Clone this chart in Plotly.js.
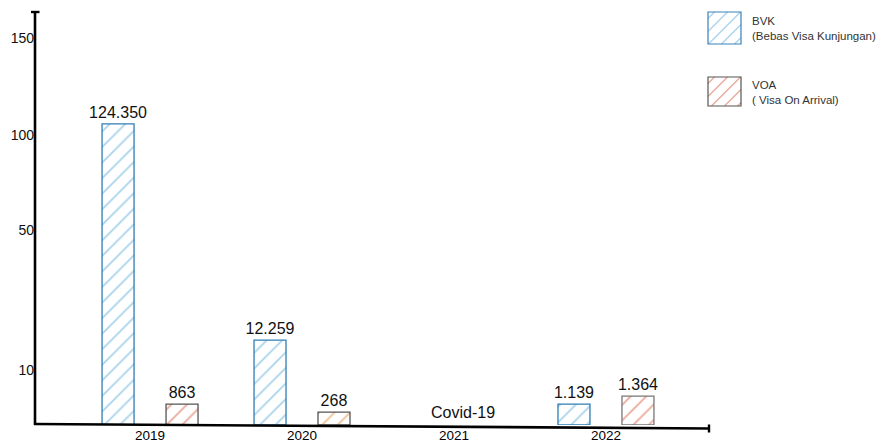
<!DOCTYPE html>
<html>
<head>
<meta charset="utf-8">
<script src="https://cdn.plot.ly/plotly-3.0.1.min.js"></script>
<style>html,body{margin:0;padding:0;background:#fff;}#chart{width:877px;height:443px;}</style>
</head>
<body>
<div id="chart"></div>
<script>
// ---- data ----
const categories = ['2019', '2020', '2021', '2022'];
const bvkVisitors = [124350, 12259, null, 1139];   // BVK (Bebas Visa Kunjungan)
const voaVisitors = [863, 268, null, 1364];        // VOA (Visa On Arrival)
// bar heights as drawn against the picture's own (non-uniform) axis, in axis units
const bvkDrawn = [116.7, 32.9, null, 8.1];
const voaDrawn = [8.1, 5.0, null, 11.2];
const yTickVals = [21.3, 75.6, 112.4, 150];
const yTickText = ['10', '50', '100', '150'];
const gapCategory = '2021';
const gapNote = 'Covid-19';
const seriesNames = ['BVK', 'VOA'];
const seriesDesc = ['(Bebas Visa Kunjungan)', '( Visa On Arrival)'];

// ---- helpers ----
const FONT = 'Liberation Sans, Arial, sans-serif';
const W = 877, H = 443, ML = 35, MR = 168, MT = 12, MB = 18;
const PW = W - ML - MR, PH = H - MT - MB;
const px = x => (x - ML) / PW;
const py = y => (H - MB - y) / PH;
const fmt = v => (v == null ? '' : String(v).replace(/\B(?=(\d{3})+(?!\d))/g, '.'));

function hatchPath(x0, y0, x1, y1, s) {
  let d = '';
  for (let c = x0 + y0 + s / 2; c < x1 + y1; c += s) {
    const xa = Math.max(x0, c - y1), xb = Math.min(x1, c - y0);
    if (xb <= xa) continue;
    d += 'M' + px(xa) + ',' + py(c - xa) + 'L' + px(xb) + ',' + py(c - xb);
  }
  return d;
}

const bvk = {
  type: 'bar', name: seriesNames[0], x: categories, y: bvkDrawn,
  text: bvkVisitors.map(fmt), textposition: 'outside', constraintext: 'none', cliponaxis: false,
  textfont: {family: FONT, size: 16, color: '#111'},
  marker: {
    color: 'white',
    line: {color: '#2f7db3', width: 1.3},
    pattern: {shape: '/', fgcolor: '#a9d3ec', bgcolor: 'white', size: 11, solidity: 0.16}
  },
  hoverinfo: 'skip', showlegend: false
};
const voa = {
  type: 'bar', name: seriesNames[1], x: categories, y: voaDrawn,
  text: voaVisitors.map(fmt), textposition: 'outside', constraintext: 'none', cliponaxis: false,
  textfont: {family: FONT, size: 16, color: '#111'},
  marker: {
    color: 'white',
    line: {color: ['#555', '#555', '#555', '#777'], width: 1.3},
    pattern: {shape: '/', fgcolor: ['#eaa899', '#efc092', '#eaa899', '#eaa899'], bgcolor: 'white', size: 11, solidity: 0.16}
  },
  hoverinfo: 'skip', showlegend: false
};

// axes drawn as shapes (the original axis is hand drawn and slightly tilted)
const shapes = [
  {type: 'line', xref: 'paper', yref: 'paper', x0: px(35), y0: py(12), x1: px(35), y1: py(425), line: {color: '#000', width: 2.6}},
  {type: 'line', xref: 'paper', yref: 'paper', x0: px(31), y0: py(12), x1: px(39.5), y1: py(12), line: {color: '#000', width: 2.4}},
  {type: 'line', xref: 'paper', yref: 'paper', x0: px(34), y0: py(424), x1: px(709), y1: py(428.5), line: {color: '#000', width: 2.6}},
  {type: 'line', xref: 'paper', yref: 'paper', x0: px(709), y0: py(424.5), x1: px(709), y1: py(432.5), line: {color: '#000', width: 2.4}}
];
// custom legend boxes with hatch
const legBoxes = [
  {x0: 708, y0: 12, x1: 741, y1: 44, stroke: '#3b80b6', fg: '#a9d3ec'},
  {x0: 708, y0: 77, x1: 741, y1: 106, stroke: '#555', fg: '#eaa899'}
];
legBoxes.forEach(b => {
  shapes.push({type: 'path', xref: 'paper', yref: 'paper', path: hatchPath(b.x0, b.y0, b.x1, b.y1, 13), line: {color: b.fg, width: 1.3}});
  shapes.push({type: 'rect', xref: 'paper', yref: 'paper', x0: px(b.x0), y0: py(b.y0), x1: px(b.x1), y1: py(b.y1), line: {color: b.stroke, width: 1.2}, fillcolor: 'rgba(0,0,0,0)'});
});

const annotations = [
  {x: categories.indexOf(gapCategory), y: 0, xref: 'x', yref: 'y', text: gapNote, showarrow: false, xanchor: 'center', yanchor: 'bottom', xshift: 9, yshift: 2,
   font: {family: FONT, size: 16, color: '#111'}},
  {xref: 'paper', yref: 'paper', x: px(750), y: py(21), text: seriesNames[0], showarrow: false, xanchor: 'left', yanchor: 'middle', font: {family: FONT, size: 11.5, color: '#333'}},
  {xref: 'paper', yref: 'paper', x: px(750), y: py(36), text: seriesDesc[0], showarrow: false, xanchor: 'left', yanchor: 'middle', font: {family: FONT, size: 11.5, color: '#333'}},
  {xref: 'paper', yref: 'paper', x: px(750), y: py(85), text: seriesNames[1], showarrow: false, xanchor: 'left', yanchor: 'middle', font: {family: FONT, size: 11.5, color: '#333'}},
  {xref: 'paper', yref: 'paper', x: px(750), y: py(100), text: seriesDesc[1], showarrow: false, xanchor: 'left', yanchor: 'middle', font: {family: FONT, size: 11.5, color: '#333'}}
];

const layout = {
  width: W, height: H,
  margin: {l: ML, r: MR, t: MT, b: MB, pad: 0},
  paper_bgcolor: 'white', plot_bgcolor: 'white',
  barmode: 'group', bargap: 0.158, bargroupgap: 0.5,
  showlegend: false,
  xaxis: {
    type: 'category', range: [-0.757, 3.678], showline: false, showgrid: false, zeroline: false,
    ticks: '', automargin: false, fixedrange: true,
    tickfont: {family: FONT, size: 13.5, color: '#000'}
  },
  yaxis: {
    range: [0, 160.1], showline: false, showgrid: false, zeroline: false,
    tickmode: 'array', tickvals: yTickVals, ticktext: yTickText,
    ticks: '', automargin: false, fixedrange: true,
    tickfont: {family: FONT, size: 14, color: '#111'}
  },
  shapes: shapes,
  annotations: annotations
};

Plotly.newPlot('chart', [bvk, voa], layout, {displayModeBar: false, staticPlot: true});
</script>
</body>
</html>
